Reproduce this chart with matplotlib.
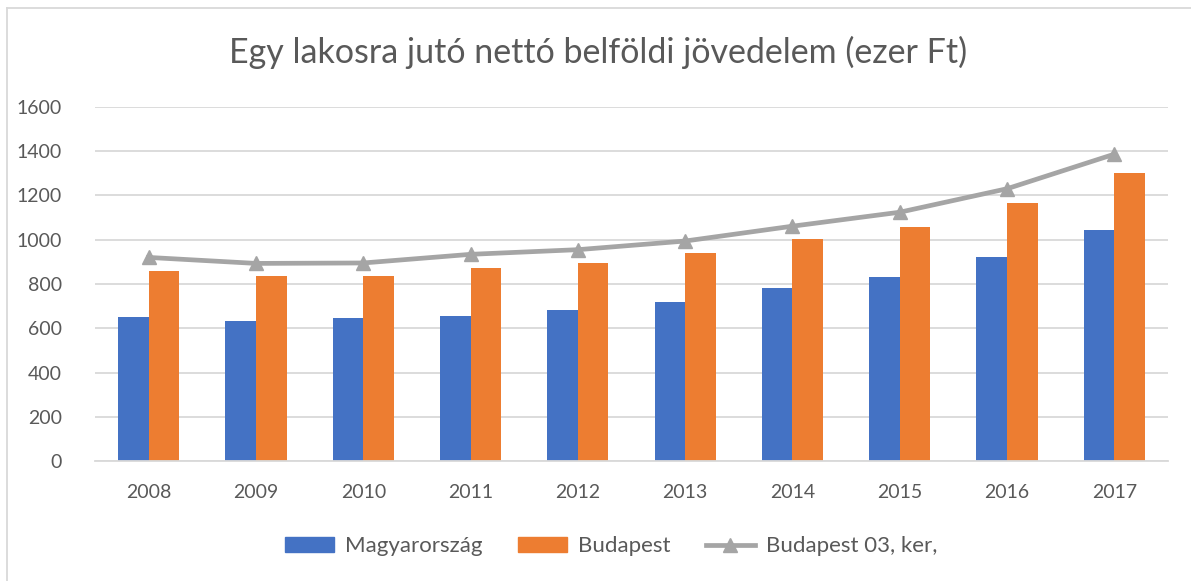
import matplotlib.pyplot as plt
from matplotlib.lines import Line2D
import numpy as np

plt.rcParams['font.family'] = ['Lato', 'DejaVu Sans']

evek = ['2008', '2009', '2010', '2011', '2012', '2013', '2014', '2015', '2016', '2017']
magyarorszag = [650, 634, 646, 654, 681, 719, 782, 831, 920, 1043]
budapest = [858, 834, 836, 873, 894, 938, 1003, 1058, 1164, 1300]
bp_03_ker = [920, 893, 895, 934, 955, 994, 1061, 1124, 1230, 1386]

kek = '#4472C4'
narancs = '#ED7D31'
szurke = '#A5A5A5'
szoveg = '#595959'

fig = plt.figure(figsize=(11.91, 5.81), dpi=100)
ax = fig.add_axes([0.0798, 0.206, 0.9009, 0.6103])

x = np.arange(len(evek))
w = 0.285
ax.bar(x - w / 2, magyarorszag, w, color=kek, label='Magyarország', zorder=2)
ax.bar(x + w / 2, budapest, w, color=narancs, label='Budapest', zorder=2)
ax.plot(x, bp_03_ker, color=szurke, lw=3.4, marker='^', ms=10,
        label='Budapest 03, ker,', zorder=3)

ax.set_xlim(-0.5, len(evek) - 0.5)
ax.set_ylim(0, 1600)
ax.set_yticks(range(0, 1601, 200))
ax.set_xticks(x)
ax.set_xticklabels(evek)
ax.yaxis.grid(True, color='#D9D9D9', lw=1.3, zorder=0)
ax.set_axisbelow(True)
for s in ['top', 'right', 'left']:
    ax.spines[s].set_visible(False)
ax.spines['bottom'].set_color('#D9D9D9')
ax.spines['bottom'].set_linewidth(1.3)
ax.tick_params(length=0, labelsize=14, colors=szoveg)
ax.tick_params(axis='x', pad=16)
ax.tick_params(axis='y', pad=24)

fig.text(0.502, 0.91, 'Egy lakosra jutó nettó belföldi jövedelem (ezer Ft)',
         ha='center', va='center', fontsize=24.5, color=szoveg)

handles = [plt.Rectangle((0, 0), 1, 1, color=kek),
           plt.Rectangle((0, 0), 1, 1, color=narancs),
           Line2D([], [], color=szurke, lw=3.4, marker='^', ms=10)]
fig.legend(handles, ['Magyarország', 'Budapest', 'Budapest 03, ker,'],
           loc='center', bbox_to_anchor=(0.513, 0.06), ncol=3, frameon=False,
           fontsize=16, labelcolor=szoveg, handlelength=2.2, handleheight=0.65,
           columnspacing=1.6, handletextpad=0.5)

# keret
fig.add_artist(Line2D([0.0059, 0.0059], [0.0, 0.986], color='#D9D9D9', lw=1.3))
fig.add_artist(Line2D([0.0059, 1.0], [0.986, 0.986], color='#D9D9D9', lw=1.3))

fig.savefig('out.png', dpi=100)
